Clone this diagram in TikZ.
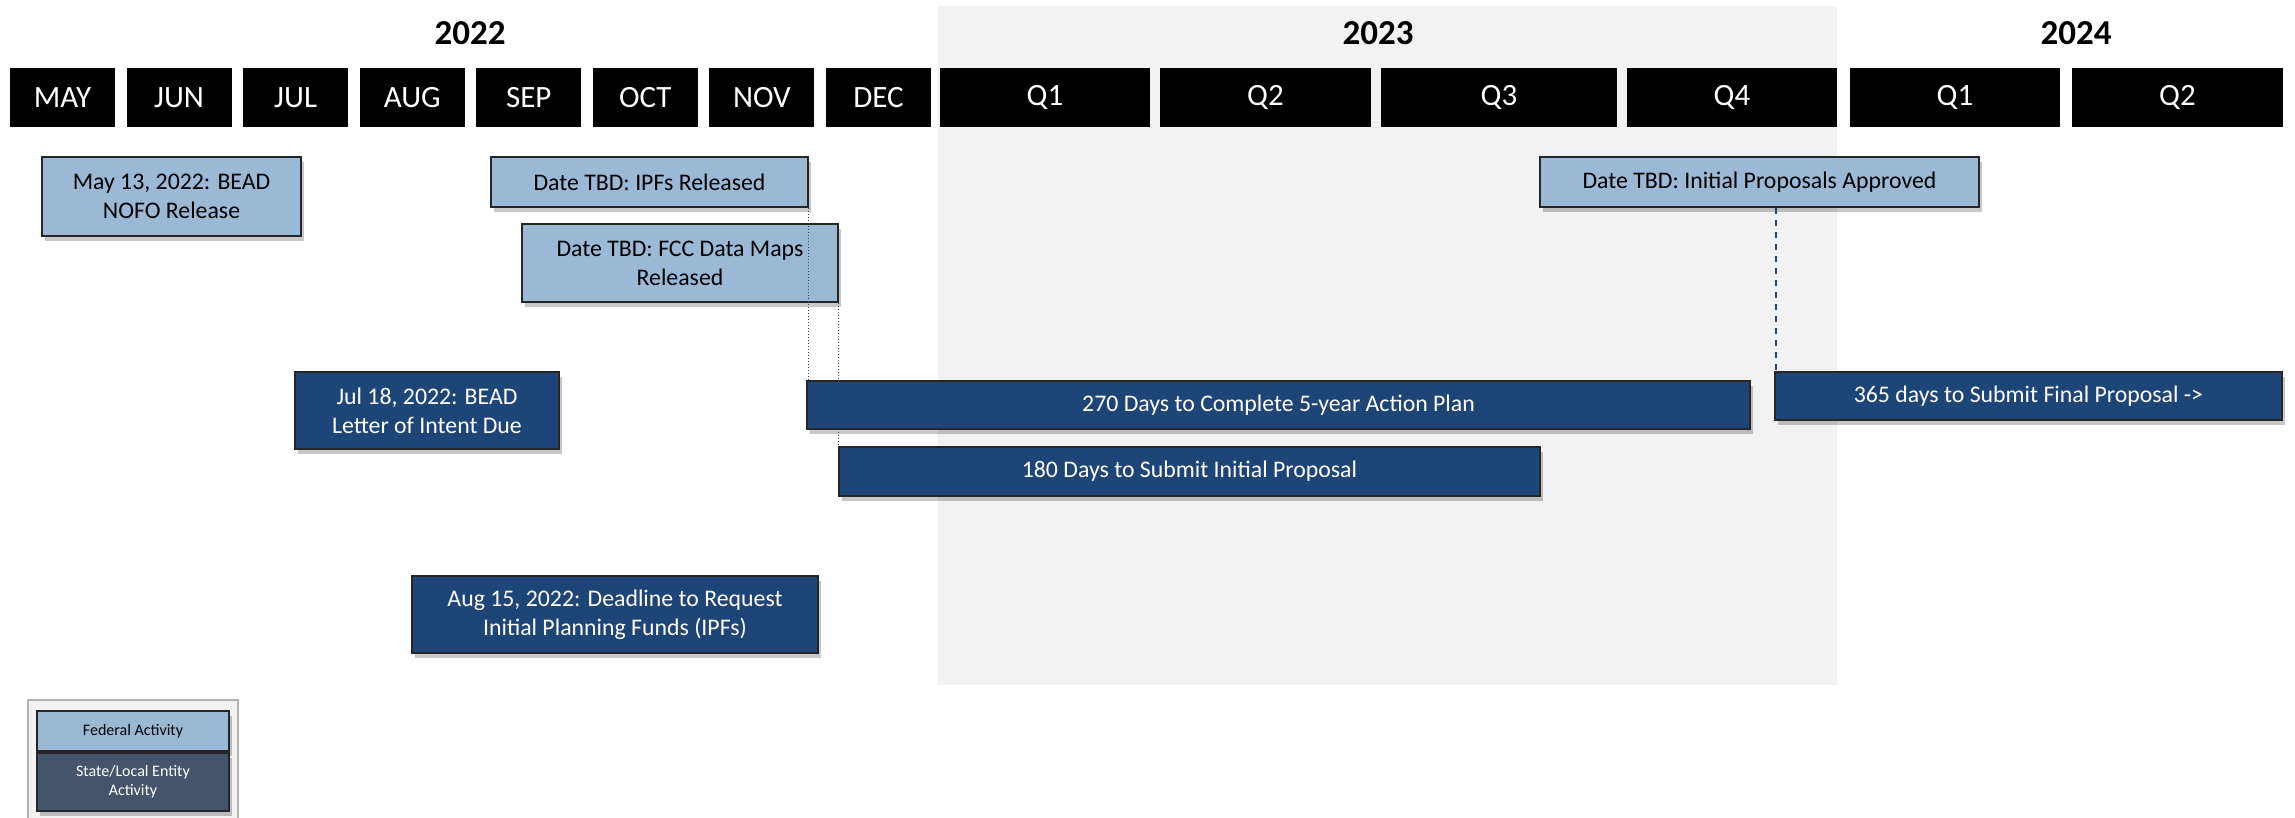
\documentclass[tikz,border=0pt]{standalone}
\usepackage{fontspec}
\setmainfont{Carlito}
\usetikzlibrary{shadows}
\definecolor{fedblue}{RGB}{155,184,213}
\definecolor{statenavy}{RGB}{30,69,120}
\definecolor{legendslate}{RGB}{68,84,106}
\definecolor{bandgray}{RGB}{242,242,242}
\tikzset{
  monthbox/.style={fill=black, text=white, minimum width=52.5pt, minimum height=29.5pt, inner sep=0pt, font=\fontsize{15.5}{18}\selectfont},
  yearlabel/.style={font=\bfseries\fontsize{17.5}{20}\selectfont},
  eventbox/.style={draw=black!85, line width=0.9pt, align=center, inner sep=0pt, font=\fontsize{11.9}{14.5}\selectfont,
    drop shadow={shadow xshift=1.5pt, shadow yshift=-2.5pt, fill=black, opacity=0.22}},
  federal/.style={eventbox, fill=fedblue, text=black},
  statelocal/.style={eventbox, fill=statenavy, text=white},
  legendbox/.style={eventbox, minimum width=96pt, font=\fontsize{8}{9.5}\selectfont},
  guide/.style={draw=statenavy, line width=0.5pt, densely dotted},
  dashguide/.style={draw=statenavy, line width=0.8pt, dashed},
}
\begin{document}
\begin{tikzpicture}[x = .5pt, y = -.5pt]
\useasboundingbox (0,0) rectangle (2295,818);
\fill[bandgray] (938,6) rectangle (1837,685); % 2023 band
% years
\node[yearlabel] (y22) at (470,33) {2022};
\node[yearlabel] (y23) at (1378,33) {2023};
\node[yearlabel] (y24) at (2076,33) {2024};
% months and quarters
\foreach \m [count=\i from 0] in {MAY,JUN,JUL,AUG,SEP,OCT,NOV,DEC}
  \node[monthbox] (m\i) at ({62.5+116.57*\i},97.5) {\m};
\foreach \q/\c/\w [count=\i] in {Q1/1045/105, Q2/1265.5/105.5, Q3/1499/118, Q4/1732/105, Q1/1955/105, Q2/2177.5/105.5}
  \node[monthbox, minimum width=\w pt] (q\i) at (\c,97.5) {\q};
% federal activity
\node[federal, minimum width=129.5pt, minimum height=39.5pt] (nofo) at (171.5,196.5) {May 13, 2022: BEAD\\NOFO Release};
\node[federal, minimum width=158.5pt, minimum height=25pt] (ipf) at (649.5,182) {Date TBD: IPFs Released};
\node[federal, minimum width=158pt, minimum height=39pt] (fcc) at (680,263) {Date TBD: FCC Data Maps\\Released};
\node[federal, minimum width=219.5pt, minimum height=25pt] (approve) at (1759.5,182) {Date TBD: Initial Proposals Approved};
% state / local activity
\node[statelocal, minimum width=132pt, minimum height=38.5pt] (loi) at (427,410.5) {Jul 18, 2022: BEAD\\Letter of Intent Due};
\node[statelocal, minimum width=203pt, minimum height=38.5pt] (ipfreq) at (615,614.5) {Aug 15, 2022: Deadline to Request\\Initial Planning Funds (IPFs)};
\node[statelocal, minimum width=471.5pt, minimum height=24pt] (plan) at (1278.5,405) {270 Days to Complete 5-year Action Plan};
\node[statelocal, minimum width=350.5pt, minimum height=24.5pt] (initial) at (1189.5,471.5) {180 Days to Submit Initial Proposal};
\node[statelocal, minimum width=253.5pt, minimum height=24pt] (final) at (2028.5,396) {365 days to Submit Final Proposal ->};
% guides
\draw[guide] (ipf.south east) -- (ipf.south east |- plan.north);
\draw[guide] (fcc.south east) -- (fcc.south east |- initial.north);
\draw[dashguide] ([xshift=1pt]approve.south -| final.north west) -- ([xshift=1pt]final.north west);
% legend
\draw[draw=black!30, line width=1pt, fill=bandgray] (28,700) rectangle (238,824);
\node[legendbox, fill=fedblue, text=black, minimum height=20pt] (legfed) at (133,731) {Federal Activity};
\node[legendbox, fill=legendslate, text=white, minimum height=29pt] (legstate) at (133,782) {State/Local Entity\\Activity};
\end{tikzpicture}
\end{document}
